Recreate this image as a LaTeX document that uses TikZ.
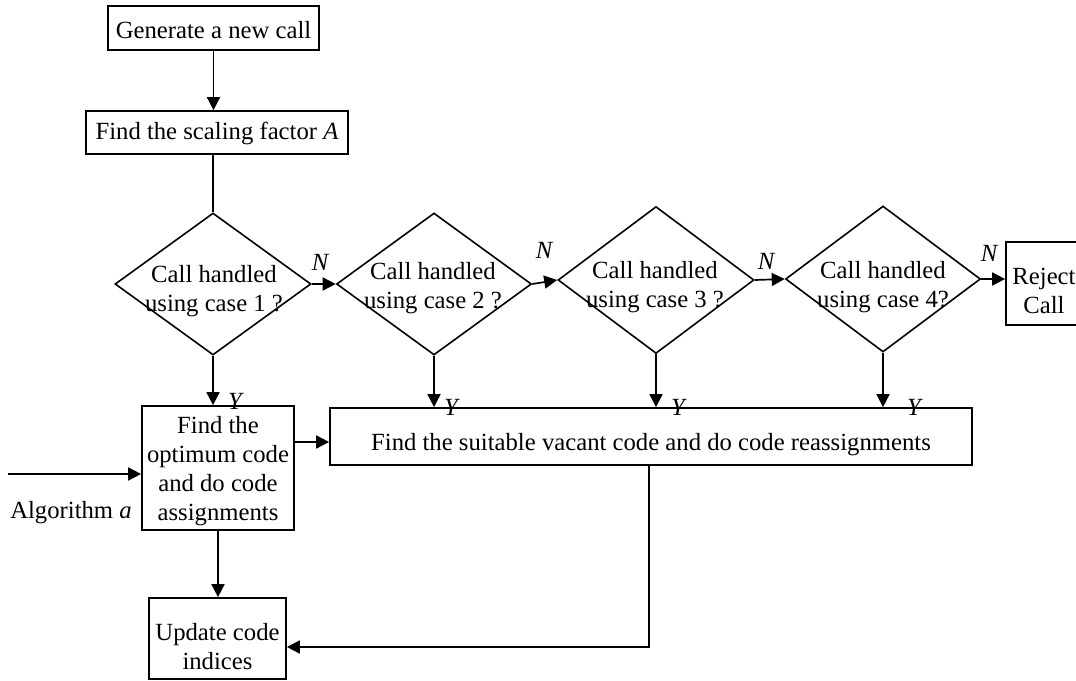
\documentclass[tikz,border=0pt]{standalone}
\usepackage{fontspec}
\setmainfont{Liberation Serif}
\usetikzlibrary{arrows.meta,shapes.geometric,calc}
\begin{document}
\begin{tikzpicture}[x=1pt,y=-1pt,
  every node/.style={font=\fontsize{24.7}{29}\selectfont},
  stepbox/.style={draw, line width=1.7pt, inner sep=0pt},
  boxtext/.style={align=center, inner sep=0pt},
  decision/.style={diamond, draw, line width=1.6pt, inner sep=0pt},
  yn/.style={font=\fontsize{24.7}{29}\selectfont\itshape, inner sep=0pt},
  flow/.style={line width=1.7pt, -{Triangle[length=13pt,width=13pt]}},
  plain/.style={line width=1.7pt}]
\path[use as bounding box, clip] (0,0) rectangle (1076,680);

% process boxes (frames), their texts placed inside
\node[stepbox, minimum width=211pt, minimum height=44pt] (gen) at (213.5,28) {};
\node[boxtext] (gent) at (213.5,30) {Generate a new call};
\node[stepbox, minimum width=262pt, minimum height=43pt] (scal) at (217,132.5) {};
\node[boxtext] (scalt) at (217,133.5) {Find the scaling factor \textit{A}};
\node[stepbox, minimum width=152pt, minimum height=124pt] (opt) at (218,468) {};
\node[boxtext] (optt) at (218,471.5) {Find the\\optimum code\\and do code\\assignments};
\node[stepbox, minimum width=642pt, minimum height=57pt] (big) at (651,436.5) {};
\node[boxtext] (bigt) at (651,444.5) {Find the suitable vacant code and do code reassignments};
\node[stepbox, minimum width=137pt, minimum height=81pt] (upd) at (217.5,638.5) {};
\node[boxtext] (updt) at (217.5,647) {Update code\\indices};
\node[stepbox, minimum width=76pt, minimum height=83pt] (rej) at (1044,283.5) {};
\node[boxtext] (rejt) at (1044,291) {Reject\\Call};

% decision diamonds
\node[decision, minimum width=196pt, minimum height=142pt] (d1) at (213,284) {};
\node[decision, minimum width=195pt, minimum height=142pt] (d2) at (434,284) {};
\node[decision, minimum width=196pt, minimum height=147pt] (d3) at (656,280) {};
\node[decision, minimum width=195pt, minimum height=146pt] (d4) at (883,279) {};
\node[boxtext] (d1t) at (214,291) {Call handled\\using case 1 ?};
\node[boxtext] (d2t) at (433,288.5) {Call handled\\using case 2 ?};
\node[boxtext] (d3t) at (655,287.5) {Call handled\\using case 3 ?};
\node[boxtext] (d4t) at (883,287) {Call handled\\using case 4?};

% main flow
\draw[flow] (gen.south) -- (gen.south |- scal.north);
\draw[plain] (d1.north |- scal.south) -- (d1.north);
\draw[flow] (d1.east) -- (d2.west);
\draw[flow] (d2.east) -- (d3.west);
\draw[flow] (d3.east) -- (d4.west);
\draw[flow] (d4.east) -- (d4.east -| rej.west);

\draw[flow] (d1.south) -- (d1.south |- opt.north);
\draw[flow] (d2.south) -- (d2.south |- big.north);
\draw[flow] (d3.south) -- (d3.south |- big.north);
\draw[flow] (d4.south) -- (d4.south |- big.north);

\draw[flow] ([yshift=-5.5pt]opt.east |- big.west) -- ([yshift=-5.5pt]big.west);
\draw[flow] (opt.south) -- (opt.south |- upd.north);

\coordinate (alg) at (8,474);
\draw[flow] (alg) -- (alg -| opt.west);
\node (algl) at (71,513) {Algorithm \textit{a}};

\coordinate (turn) at (649,647);
\draw[flow] (big.south -| turn) -- (turn) -- (turn -| upd.east);

% branch labels
\node[yn] (n1) at (320,262) {N};
\node[yn] (n2) at (544,250) {N};
\node[yn] (n3) at (766,261) {N};
\node[yn] (n4) at (989,253) {N};
\node[yn] (y1) at (235,401) {Y};
\node[yn] (y2) at (451,407) {Y};
\node[yn] (y3) at (678,407) {Y};
\node[yn] (y4) at (914,407) {Y};
\end{tikzpicture}
\end{document}
